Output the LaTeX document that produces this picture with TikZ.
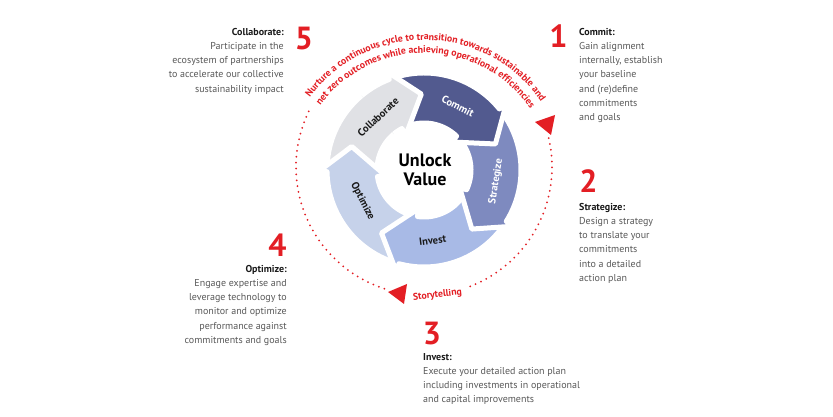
\documentclass[tikz,border=0pt]{standalone}
\usepackage{fontspec}
\setmainfont{PT Sans}
\usetikzlibrary{decorations.text}
\definecolor{cred}{HTML}{E31E24}
\definecolor{cgray}{HTML}{595959}
\definecolor{chead}{HTML}{1A1A1A}
\definecolor{acommit}{HTML}{525A8F}
\definecolor{astrat}{HTML}{7E8ABF}
\definecolor{ainvest}{HTML}{A8BAE6}
\definecolor{aoptim}{HTML}{C6D2EA}
\definecolor{acollab}{HTML}{E0E1E5}
\newcommand\blockhead[1]{\textcolor{chead}{\bfseries #1}}
\newcommand\arcfont{\fontsize{9.8}{11}\selectfont\bfseries}
% #1 tail angle (previous tip), #2 tip angle, #3 colour
\newcommand\ringarrow[3]{%
  \fill[#3, draw=white, line width=5pt, line join=round]
    ({#1+16}:97) arc[start angle={#1+16}, end angle={#2+19}, radius=97]
    -- ({#2+19}:106) -- (#2:76) -- ({#2+26}:39) -- ({#2+26}:47)
    arc[start angle={#2+26}, end angle={#1+23}, radius=47] -- cycle;}
\begin{document}
\begin{tikzpicture}[x=1pt,y=1pt,
  txt/.style={font=\fontsize{10}{14.1}\selectfont, text=cgray, inner sep=0pt},
  num/.style={font=\fontsize{32}{32}\selectfont\bfseries, text=cred, inner sep=0pt},
  lbl/.style={font=\fontsize{10.5}{12}\selectfont\bfseries, text=chead, inner sep=0pt},
  dots/.style={draw=cred, line width=2pt, line cap=round, dash pattern=on 0pt off 5.9pt},
  tri/.style={fill=cred}]
\useasboundingbox (0,0) rectangle (833,417);
\fill[white] (0,0) rectangle (833,417);

% ring of arrows
\begin{scope}[shift={(424,247)}]
  \ringarrow{162}{92}{acollab}
  \ringarrow{236}{162}{aoptim}
  \ringarrow{-51}{-124}{ainvest}
  \ringarrow{20}{-51}{astrat}
  \ringarrow{92}{20}{acommit}
  \begin{scope}
    \clip (0,0) -- (60:130) arc[start angle=60, end angle=130, radius=130] -- cycle;
    \ringarrow{162}{92}{acollab}
  \end{scope}
  \node[lbl, text=white, rotate=-27] (lcommit) at (62:72) {Commit};
  \node[lbl, text=white, rotate=81] (lstrat) at (-9:73) {Strategize};
  \node[lbl, rotate=7] (linvest) at (-83:71) {Invest};
  \node[lbl, rotate=-63] (loptim) at (207:69) {Optimize};
  \node[lbl, rotate=43] (lcollab) at (131:70) {Collaborate};
  \node[font=\fontsize{18}{19.5}\selectfont\bfseries, align=center, inner sep=0pt] (unlock) at (1,0) {Unlock\\Value};
\end{scope}

% dotted circle
\begin{scope}[shift={(424,250)}]
  \draw[dots] (13:128) arc[start angle=13, end angle=-70, radius=128];
  \draw[dots] (252:128) arc[start angle=252, end angle=153, radius=128];
  \node[font=\arcfont, text=cred, rotate=6, inner sep=0pt] (story) at (-84:128.7) {Storytelling};
\end{scope}
\fill[tri] (535,295) -- (555,302) -- (551,282) -- cycle;
\fill[tri] (388,125) -- (407,133) -- (404,113) -- cycle;

% arc text
\begin{scope}[shift={(424,235)}]
  \path[decorate, decoration={text along path, text color=cred, text align=center,
    text={|\arcfont|Nurture a continuous cycle to transition towards sustainable and}}]
    (146:142) arc[start angle=146, end angle=32, radius=142];
  \path[decorate, decoration={text along path, text color=cred, text align=center,
    text={|\arcfont|net zero outcomes while achieving operational efficiencies}}]
    (146:129) arc[start angle=146, end angle=32, radius=129];
\end{scope}

% numbers
\node[num, anchor=base] (n5) at (304,367) {5};
\node[num, anchor=base] (n1) at (558.5,369) {1};
\node[num, anchor=base] (n2) at (588.5,224) {2};
\node[num, anchor=base] (n4) at (277.5,160) {4};
\node[num, anchor=base] (n3) at (432,72) {3};

% text blocks
\node[txt, anchor=north east, align=right] (tcollab) at (284,391.4)
  {\strut\blockhead{Collaborate:}\\Participate in the\\ecosystem of partnerships\\to accelerate our collective\\sustainability impact};
\node[txt, anchor=north west, align=left] (tcommit) at (579,391.4)
  {\strut\blockhead{Commit:}\\Gain alignment\\internally, establish\\your baseline\\and (re)define\\commitments\\and goals};
\node[txt, anchor=north west, align=left] (tstrat) at (579,216.4)
  {\strut\blockhead{Strategize:}\\Design a strategy\\to translate your\\commitments\\into a detailed\\action plan};
\node[txt, anchor=north east, align=right] (toptim) at (287,154.4)
  {\strut\blockhead{Optimize:}\\Engage expertise and\\leverage technology to\\monitor and optimize\\performance against\\commitments and goals};
\node[txt, anchor=north west, align=left] (tinvest) at (423,66.4)
  {\strut\blockhead{Invest:}\\Execute your detailed action plan\\including investments in operational\\and capital improvements};
\end{tikzpicture}
\end{document}
